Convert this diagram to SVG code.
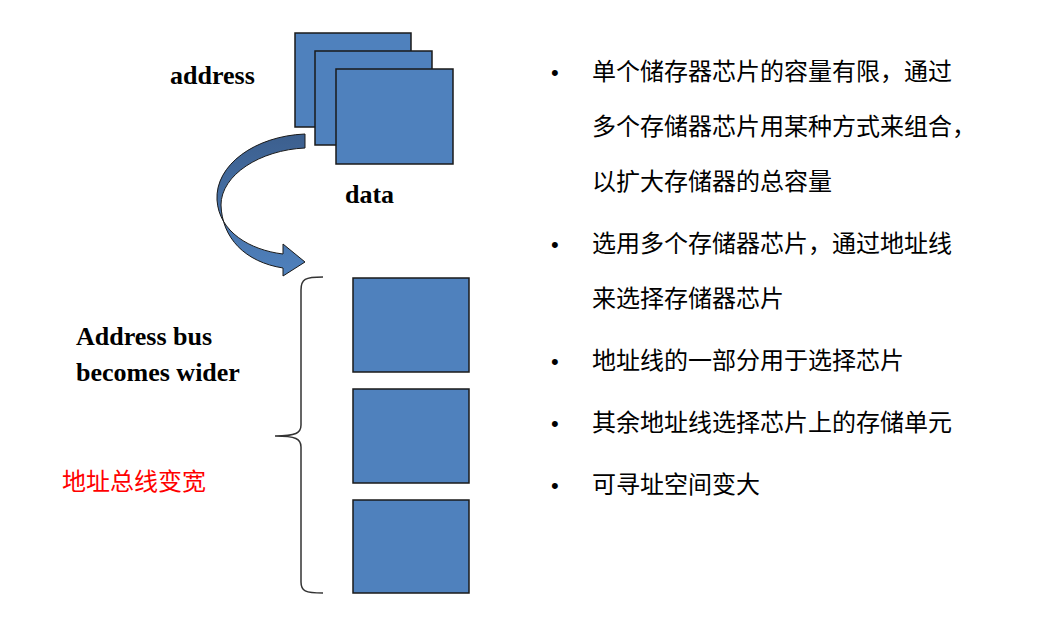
<svg xmlns="http://www.w3.org/2000/svg" width="1047" height="627" viewBox="0 0 1047 627">
<defs>
<style>
.chip{fill:#4f81bd;stroke:#1a1a1a;stroke-width:1.5}
.en{font-family:"Liberation Serif",serif;font-weight:bold;font-size:26px;fill:#000}
.zh{font-family:"Noto Sans CJK SC",sans-serif;font-size:24px;fill:#000}
.dot{font-family:"Liberation Sans",sans-serif;font-size:22px;fill:#000}
</style>
<linearGradient id="g" x1="0" y1="0" x2="0" y2="1">
<stop offset="0" stop-color="#3c5f8e"/><stop offset="1" stop-color="#4f81bd"/>
</linearGradient>
</defs>
<rect width="1047" height="627" fill="#fff"/>
<g id="chips-top">
<rect class="chip" x="295" y="33" width="116" height="94"/>
<rect class="chip" x="315" y="51" width="117" height="94"/>
<rect class="chip" x="336" y="69" width="117" height="95"/>
</g>
<g id="chips-bottom">
<rect class="chip" x="353" y="278" width="116" height="94"/>
<rect class="chip" x="353" y="389" width="116" height="94"/>
<rect class="chip" x="353" y="500" width="116" height="93"/>
</g>
<g id="connectors">
<path d="M305,134 C255,136 215,165 217,200 C219,232 250,250 283,254 L283,244 L305,262 L283,276 L283,268 C245,262 222,238 221,205 C221,175 260,150 305,148 Z" fill="url(#g)" stroke="#1a1a1a" stroke-width="1"/>
<path d="M323,277 C305,277 301,279 301,290 L301,425 C301,433 296,436 275,436 C296,436 301,439 301,447 L301,582 C301,591 305,593 323,593" fill="none" stroke="#333" stroke-width="1.5"/>
</g>
<g id="labels">
<text class="en" x="170" y="84">address</text>
<text class="en" x="345" y="203">data</text>
<text class="en" x="76" y="345">Address bus</text>
<text class="en" x="76" y="381">becomes wider</text>
<text class="zh" x="62" y="490" fill="#ff0000" style="fill:#ff0000">地址总线变宽</text>
</g>
<g id="bullets">
<text class="dot" x="551" y="80">•</text><text class="zh" x="592" y="80">单个储存器芯片的容量有限，通过</text>
<text class="zh" x="592" y="135">多个存储器芯片用某种方式来组合，</text>
<text class="zh" x="592" y="190">以扩大存储器的总容量</text>
<text class="dot" x="551" y="252">•</text><text class="zh" x="592" y="252">选用多个存储器芯片，通过地址线</text>
<text class="zh" x="592" y="307">来选择存储器芯片</text>
<text class="dot" x="551" y="369">•</text><text class="zh" x="592" y="369">地址线的一部分用于选择芯片</text>
<text class="dot" x="551" y="431">•</text><text class="zh" x="592" y="431">其余地址线选择芯片上的存储单元</text>
<text class="dot" x="551" y="493">•</text><text class="zh" x="592" y="493">可寻址空间变大</text>
</g>
</svg>
